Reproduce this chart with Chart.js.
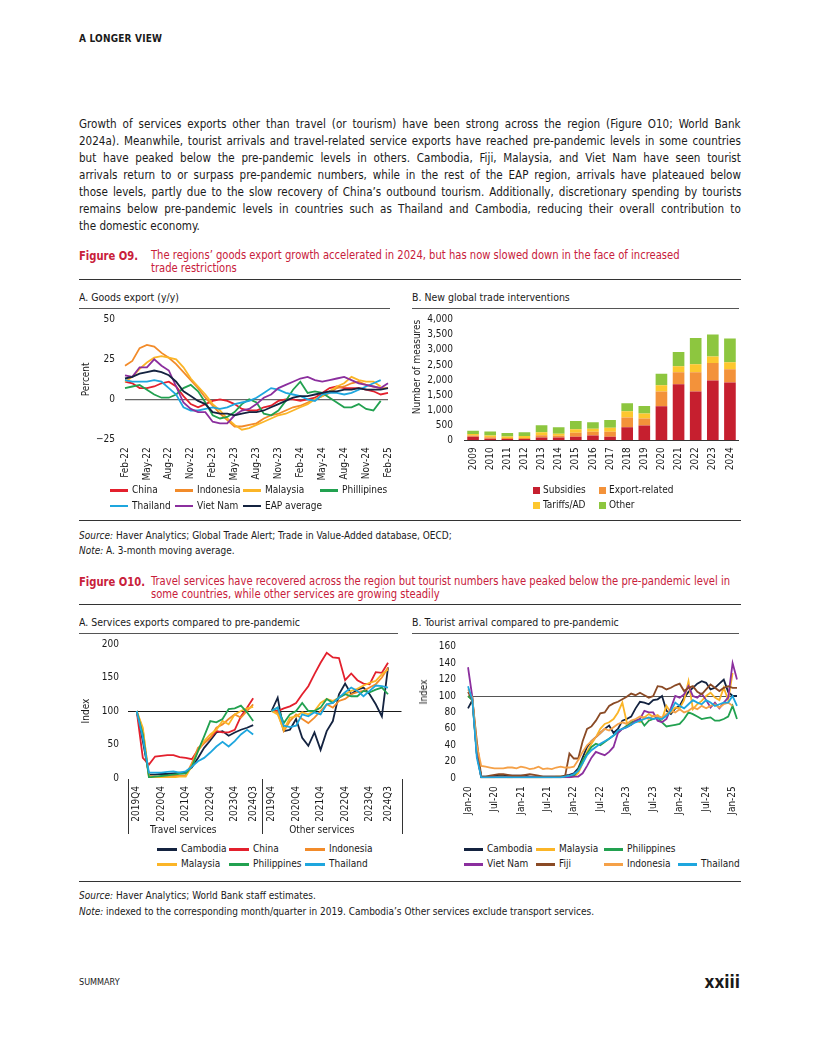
<!DOCTYPE html>
<html>
<head>
<meta charset="utf-8">
<title>A longer view</title>
<script src="https://cdn.jsdelivr.net/npm/chart.js@4.4.1/dist/chart.umd.min.js"></script>
<style>
  body { margin: 0; background: #fff; }
  #page { position: relative; width: 816px; height: 1056px; overflow: hidden;
          font-family: "Liberation Sans Narrow", "DejaVu Sans Condensed", sans-serif; color: #1a1a1a; }
  .t { position: absolute; white-space: nowrap; }
  .rule { position: absolute; height: 0; border-top: 1.3px solid #333; }
  .thin { border-top: 1px solid #555; }
  .red { color: #c8203a; }
  .box { position: absolute; }
  .cond { display: inline-block; transform: scaleX(0.89); transform-origin: 0 0; }
  .cond2 { display: inline-block; transform: scaleX(0.95); transform-origin: 0 0; }
  .para { position: absolute; left: 79px; top: 115px; font-size: 13px; transform-origin: 0 0; }
  .jline { display: block; white-space: nowrap; height: 17px; line-height: 17px; }
  .jline span { display: inline-block; }
  .leg { position: absolute; font-size: 10px; line-height: 12px; height: 12px; white-space: nowrap; }
  .leg i { position: absolute; left: 0; }
  .ctitle { font-size: 11px; line-height: 14px; }
  .src { font-size: 10.5px; line-height: 14px; }
</style>
</head>
<body>
<div id="page">
  <div class="t" style="left:79px;top:32px;font-size:10px;font-weight:bold;letter-spacing:0.2px;line-height:14px;">A LONGER VIEW</div>

  <div class="para" id="para">
    <div class="jline"><span>Growth of services exports other than travel (or tourism) have been strong across the region (Figure O10; World Bank</span></div>
    <div class="jline"><span>2024a). Meanwhile, tourist arrivals and travel-related service exports have reached pre-pandemic levels in some countries</span></div>
    <div class="jline"><span>but have peaked below the pre-pandemic levels in others. Cambodia, Fiji, Malaysia, and Viet Nam have seen tourist</span></div>
    <div class="jline"><span>arrivals return to or surpass pre-pandemic numbers, while in the rest of the EAP region, arrivals have plateaued below</span></div>
    <div class="jline"><span>those levels, partly due to the slow recovery of China’s outbound tourism. Additionally, discretionary spending by tourists</span></div>
    <div class="jline"><span>remains below pre-pandemic levels in countries such as Thailand and Cambodia, reducing their overall contribution to</span></div>
    <div class="jline last"><span>the domestic economy.</span></div>
  </div>

  <!-- Figure O9 -->
  <div class="t red" style="left:79px;top:249px;font-size:12.5px;font-weight:bold;line-height:14px;"><span class="cond">Figure O9.</span></div>
  <div class="t red" style="left:151px;top:249px;font-size:12.5px;line-height:12.5px;"><span class="cond">The regions’ goods export growth accelerated in 2024, but has now slowed down in the face of increased<br>trade restrictions</span></div>
  <div class="rule" style="left:79px;top:279px;width:662px;"></div>

  <div class="t ctitle" style="left:79px;top:291px;"><span class="cond2">A. Goods export (y/y)</span></div>
  <div class="rule thin" style="left:79px;top:308px;width:311px;"></div>
  <div class="t ctitle" style="left:412px;top:291px;"><span class="cond2">B. New global trade interventions</span></div>
  <div class="rule thin" style="left:412px;top:308px;width:327px;"></div>

  <div class="box" style="left:75px;top:311px;width:320px;height:180px;"><canvas id="c9a" width="320" height="180"></canvas></div>
  <div class="box" style="left:405px;top:312px;width:340px;height:180px;"><canvas id="c9b" width="340" height="180"></canvas></div>

  <div class="rule" style="left:79px;top:520px;width:662px;"></div>
  <div class="t src" style="left:79px;top:528px;"><span class="cond2"><i>Source:</i> Haver Analytics; Global Trade Alert; Trade in Value-Added database, OECD;</span></div>
  <div class="t src" style="left:79px;top:543px;"><span class="cond2"><i>Note:</i> A. 3-month moving average.</span></div>

  <!-- Figure O10 -->
  <div class="t red" style="left:79px;top:575px;font-size:12.5px;font-weight:bold;line-height:14px;"><span class="cond">Figure O10.</span></div>
  <div class="t red" style="left:151px;top:575px;font-size:12.5px;line-height:12.5px;"><span class="cond">Travel services have recovered across the region but tourist numbers have peaked below the pre-pandemic level in<br>some countries, while other services are growing steadily</span></div>
  <div class="rule" style="left:79px;top:604px;width:662px;"></div>

  <div class="t ctitle" style="left:79px;top:616px;"><span class="cond2">A. Services exports compared to pre-pandemic</span></div>
  <div class="rule thin" style="left:79px;top:633px;width:319px;"></div>
  <div class="t ctitle" style="left:412px;top:616px;"><span class="cond2">B. Tourist arrival compared to pre-pandemic</span></div>
  <div class="rule thin" style="left:412px;top:633px;width:327px;"></div>

  <div class="box" style="left:75px;top:636px;width:330px;height:200px;"><canvas id="c10a" width="330" height="200"></canvas></div>
  <div class="box" style="left:405px;top:638px;width:340px;height:200px;"><canvas id="c10b" width="340" height="200"></canvas></div>
  <div class="t" style="left:424px;top:692px;font-size:10px;line-height:12px;transform:translate(-50%,-50%) rotate(-90deg);transform-origin:center;">Index</div>

  <div class="rule" style="left:79px;top:881px;width:662px;"></div>
  <div class="t src" style="left:79px;top:888px;"><span class="cond2"><i>Source:</i> Haver Analytics; World Bank staff estimates.</span></div>
  <div class="t src" style="left:79px;top:904px;"><span class="cond2"><i>Note:</i> indexed to the corresponding month/quarter in 2019. Cambodia’s Other services exclude transport services.</span></div>

  <div class="t" style="left:79px;top:976px;font-size:9px;line-height:12px;">SUMMARY</div>
  <div class="t" style="right:76px;top:972px;font-size:17px;font-weight:bold;line-height:20px;">xxiii</div>
</div>

<script>
// ---------- Figure O9 A: goods export growth, 3m avg, y/y % ----------
const months9 = ['Feb-22','Mar-22','Apr-22','May-22','Jun-22','Jul-22','Aug-22','Sep-22','Oct-22','Nov-22','Dec-22',
  'Jan-23','Feb-23','Mar-23','Apr-23','May-23','Jun-23','Jul-23','Aug-23','Sep-23','Oct-23','Nov-23','Dec-23',
  'Jan-24','Feb-24','Mar-24','Apr-24','May-24','Jun-24','Jul-24','Aug-24','Sep-24','Oct-24','Nov-24','Dec-24',
  'Jan-25','Feb-25'];
const china9     = [11, 10, 7, 7, 8, 10, 11, 8, 2, -3, -5, -3, -1, 0, -1, -3, -6, -7, -7, -5, -4, -1, 0, 0, -1, 0, 1, 4, 7, 8, 7, 7, 7, 6, 5, 3, 4];
const indonesia9 = [21, 24, 32, 34, 33, 29, 26, 22, 17, 12, 7, 1, -4, -9, -13, -17, -17, -16, -15, -12, -10, -9, -7, -5, -4, -2, 0, 2, 4, 7, 8, 10, 11, 9, 8, 7, 7];
const malaysia9  = [11, 14, 19, 23, 26, 27, 26, 25, 20, 13, 8, 3, -3, -7, -12, -16, -19, -18, -16, -14, -12, -10, -9, -7, -5, -3, 0, 2, 5, 8, 10, 14, 12, 11, 11, 8, null];
const phil9      = [7, 8, 9, 6, 3, 1, 1, 3, 7, 9, 5, -2, -10, -12, -11, -8, -3, 0, -2, -9, -10, -7, -1, 6, 11, 4, 5, 4, 1, -2, -5, -5, -3, -6, -7, -1, null];
const thai9      = [12, 11, 11, 11, 12, 11, 7, 3, -5, -7, -7, -6, -5, -6, -5, -3, -2, -1, 1, 4, 7, 6, 4, 3, 2, 0, -1, 3, 4, 4, 3, 4, 6, 8, 10, 12, null];
const viet9      = [15, 14, 20, 20, 25, 21, 18, 8, -2, -6, -8, -8, -14, -15, -15, -10, -7, -6, -3, 1, 3, 7, 9, 11, 13, 14, 12, 11, 12, 13, 14, 12, 10, 9, 8, 7, 10];
const eap9       = [13, 14, 16, 17, 18, 17, 15, 11, 5, 2, -1, -3, -8, -9, -9, -10, -9, -8, -8, -7, -5, -3, -1, 1, 2, 2, 3, 4, 5, 5, 6, 6, 7, 6, 6, 6, 7];
const yTicks9 = [-25, 0, 25, 50];

// ---------- Figure O9 B: new global trade interventions ----------
const years9 = ['2009','2010','2011','2012','2013','2014','2015','2016','2017','2018','2019','2020','2021','2022','2023','2024'];
const subsidies = [120, 50, 40, 40, 90, 90, 120, 160, 120, 430, 490, 1130, 1860, 1620, 1980, 1920];
const exportRel = [40, 50, 40, 40, 80, 60, 130, 120, 160, 330, 230, 490, 400, 640, 580, 440];
const tariffsAD = [50, 60, 50, 60, 100, 70, 120, 100, 140, 200, 170, 210, 200, 260, 220, 230];
const otherMeas = [110, 130, 110, 130, 230, 210, 270, 220, 250, 270, 250, 380, 470, 870, 730, 790];

// ---------- Figure O10 A: services exports index (2019 = 100) ----------
const quarters = ['2019Q4','2020Q1','2020Q2','2020Q3','2020Q4','2021Q1','2021Q2','2021Q3','2021Q4','2022Q1',
  '2022Q2','2022Q3','2022Q4','2023Q1','2023Q2','2023Q3','2023Q4','2024Q1','2024Q2','2024Q3'];
const quarterTicks = ['2019Q4','2020Q4','2021Q4','2022Q4','2023Q4','2024Q3'];
const groupNames = ['Travel services', 'Other services'];
// travel services
const cambodiaT  = [100, 55, 5, 5, 6, 6, 7, 8, 8, 16, 30, 45, 56, 68, 70, 63, 68, 72, 75, 79];
const chinaT     = [100, 30, 20, 32, 33, 34, 34, 31, 30, 28, 42, 52, 60, 70, 68, 68, 72, 92, 105, 119];
const indonesiaT = [100, 72, 3, 2, 2, 2, 3, 3, 4, 22, 45, 52, 60, 75, 80, 88, 95, 90, 100, 110];
const malaysiaT  = [100, 75, 1, 1, 1, 1, 1, 2, 2, 18, 40, 55, 65, 72, 85, 80, 95, 100, 104, 106];
const philT      = [100, 65, 1, 2, 3, 4, 5, 6, 7, 17, 40, 62, 85, 83, 88, 103, 104, 108, 98, 85];
const thaiT      = [100, 60, 8, 8, 8, 9, 10, 8, 10, 17, 25, 30, 38, 47, 54, 47, 55, 65, 72, 65];
// other services
const cambodiaO  = [100, 120, 70, 72, 88, 60, 48, 68, 42, 70, 85, 125, 141, 125, 132, 135, 125, 110, 92, 165];
const chinaO     = [100, 100, 104, 107, 112, 125, 137, 155, 172, 187, 180, 179, 146, 156, 146, 141, 140, 158, 157, 172];
const indonesiaO = [100, 98, 70, 85, 95, 88, 82, 90, 100, 110, 105, 115, 118, 125, 128, 130, 135, 140, 150, 165];
const malaysiaO  = [100, 95, 72, 90, 92, 98, 95, 100, 112, 118, 115, 120, 125, 130, 133, 138, 142, 145, 155, 162];
const philO      = [100, 105, 82, 95, 100, 112, 100, 100, 105, 118, 112, 120, 125, 122, 122, 130, 128, 132, 135, 125];
const thaiO      = [100, 105, 78, 76, 78, 95, 92, 98, 95, 110, 112, 120, 128, 135, 130, 122, 130, 138, 137, 135];

// ---------- Figure O10 B: tourist arrivals index (same month 2019 = 100) ----------
const months10 = ['Jan-20','Feb-20','Mar-20','Apr-20','May-20','Jun-20','Jul-20','Aug-20','Sep-20','Oct-20','Nov-20','Dec-20',
  'Jan-21','Feb-21','Mar-21','Apr-21','May-21','Jun-21','Jul-21','Aug-21','Sep-21','Oct-21','Nov-21','Dec-21',
  'Jan-22','Feb-22','Mar-22','Apr-22','May-22','Jun-22','Jul-22','Aug-22','Sep-22','Oct-22','Nov-22','Dec-22',
  'Jan-23','Feb-23','Mar-23','Apr-23','May-23','Jun-23','Jul-23','Aug-23','Sep-23','Oct-23','Nov-23','Dec-23',
  'Jan-24','Feb-24','Mar-24','Apr-24','May-24','Jun-24','Jul-24','Aug-24','Sep-24','Oct-24','Nov-24','Dec-24',
  'Jan-25','Feb-25'];
const cambodia10  = [85, 95, 30, 2, 2, 2, 3, 3, 3, 3, 3, 3, 3, 3, 2, 2, 2, 2, 2, 2, 2, 2, 3, 4, 6, 12, 25, 38, 45, 50,
  55, 60, 64, 55, 60, 70, 72, 75, 85, 93, 92, 90, 95, 96, 100, 82, 78, 85, 88, 98, 105, 110, 115, 118, 116, 108, 110, 115, 120, 105, 100, 100];
const malaysia10  = [100, 95, 35, 1, 1, 1, 1, 2, 2, 1, 1, 2, 1, 1, 1, 1, 1, 1, 1, 1, 2, 2, 2, 2, 2, 6, 18, 32, 42, 50,
  60, 66, 68, 72, 80, 92, 68, 65, 70, 68, 74, 78, 75, 77, 72, 88, 80, 86, 85, 95, 118, 84, 90, 94, 100, 104, 98, 95, 110, 95, 128, null];
const phil10      = [100, 95, 30, 1, 1, 1, 1, 1, 1, 1, 1, 1, 1, 1, 1, 1, 1, 1, 1, 1, 1, 1, 2, 2, 3, 10, 22, 30, 38, 42,
  40, 44, 48, 52, 56, 60, 64, 68, 70, 72, 64, 70, 72, 74, 68, 63, 64, 65, 66, 72, 80, 78, 75, 72, 73, 74, 70, 70, 72, 75, 88, 72];
const viet10      = [135, 98, 30, 1, 1, 1, 1, 1, 1, 1, 1, 1, 1, 1, 1, 1, 1, 1, 1, 1, 1, 1, 1, 1, 2, 2, 6, 15, 25, 32,
  30, 28, 32, 38, 55, 60, 62, 65, 70, 72, 82, 80, 80, 70, 68, 72, 85, 100, 98, 102, 112, 100, 98, 103, 95, 86, 92, 85, 92, 98, 140, 120];
const fiji10      = [105, 95, 45, 2, 2, 3, 4, 5, 5, 4, 3, 3, 3, 4, 5, 4, 3, 2, 2, 2, 2, 2, 2, 30, 24, 24, 45, 60, 63, 70,
  79, 80, 88, 91, 93, 96, 99, 103, 101, 104, 101, 98, 100, 112, 111, 108, 110, 113, 115, 106, 110, 112, 105, 102, 108, 114, 110, 106, 110, 112, 110, 110];
const indonesia10 = [108, 98, 40, 15, 14, 13, 12, 12, 12, 13, 13, 12, 14, 13, 11, 12, 14, 11, 12, 11, 13, 14, 13, 13, 14, 22, 32, 40, 45, 50,
  55, 60, 58, 62, 66, 68, 66, 70, 72, 75, 74, 72, 76, 75, 74, 78, 82, 80, 84, 80, 82, 86, 84, 88, 85, 88, 90, 86, 90, 92, 88, null];
const thai10      = [112, 95, 25, 1, 1, 1, 1, 1, 1, 1, 1, 1, 1, 1, 1, 1, 1, 1, 1, 1, 1, 1, 2, 3, 5, 9, 18, 28, 34, 38,
  42, 45, 48, 52, 58, 60, 62, 65, 68, 70, 72, 74, 72, 73, 72, 76, 82, 92, 88, 85, 90, 95, 92, 90, 95, 92, 88, 90, 92, 92, 100, 88];

// ---------- colours ----------
const COL = {
  china: '#e3202d', indonesia: '#f28b2a', malaysia: '#fbb527', phil: '#22a150', thai: '#1ea6de',
  viet: '#8b2f9e', navy: '#142340', fiji: '#8a4a25', indonesiaB: '#f5a148',
  subsidies: '#c61f2f', exportRel: '#f3923a', tariffs: '#fdc72e', other: '#8dc63f'
};

const FONT = '"Liberation Sans Narrow", "DejaVu Sans Condensed", sans-serif';
Chart.defaults.font.family = FONT;
Chart.defaults.font.size = 10;
Chart.defaults.color = '#1a1a1a';
Chart.defaults.animation = false;
Chart.defaults.plugins.legend.display = false;
Chart.defaults.plugins.tooltip.enabled = false;

// axis boxes get a fixed size, and no label overhang padding, so the plot
// areas land exactly where the page has them
const noOverhang = axis => { axis.paddingTop = axis.paddingBottom = axis.paddingLeft = axis.paddingRight = 0; };
const fixWidth = w => axis => { axis.width = w; noOverhang(axis); };
const fixHeight = h => axis => { axis.height = h; noOverhang(axis); };
const onlyAt = (value, color) => ctx => (ctx.tick && ctx.tick.value === value ? color : 'rgba(0,0,0,0)');
const minus = v => (v < 0 ? '\u2212' + Math.abs(v) : String(v));
const pad = (top, right) => ({ autoPadding: false, padding: { top, right, left: 0, bottom: 0 } });

function line(label, data, color, order) {
  return { label, data, borderColor: color, backgroundColor: color, borderWidth: 1.8,
           pointRadius: 0, tension: 0, spanGaps: false, order: order || 0 };
}

function yTitle(text, p, align) {
  return { display: true, text, align: align || 'center', color: '#1a1a1a',
           font: { size: 10 }, padding: { top: p, bottom: 0 } };
}

// Figure O9 A
new Chart(document.getElementById('c9a'), {
  type: 'line',
  data: {
    labels: months9,
    datasets: [
      line('EAP average', eap9, COL.navy, 0),
      line('Viet Nam', viet9, COL.viet, 1),
      line('Thailand', thai9, COL.thai, 2),
      line('Phillipines', phil9, COL.phil, 3),
      line('Malaysia', malaysia9, COL.malaysia, 4),
      line('Indonesia', indonesia9, COL.indonesia, 5),
      line('China', china9, COL.china, 6)
    ]
  },
  options: {
    responsive: false,
    layout: pad(8.3, 7),
    scales: {
      x: {
        grid: { display: false, drawTicks: false }, border: { display: false },
        ticks: { autoSkip: false, minRotation: 90, maxRotation: 90, padding: 8,
                 callback: function (v, i) { return i % 3 === 0 ? this.getLabelForValue(v) : ''; } },
        afterFit: fixHeight(51.7)
      },
      y: {
        min: -25, max: 50,
        afterBuildTicks: axis => { axis.ticks = yTicks9.map(v => ({ value: v })); },
        grid: { color: onlyAt(0, '#666'), lineWidth: 1.3, drawTicks: false }, border: { display: false },
        ticks: { padding: 10, callback: minus },
        title: yTitle('Percent', 5),
        afterFit: fixWidth(50)
      }
    }
  }
});

// Figure O9 B
const bar = (label, data, color) => ({ label, data, backgroundColor: color, borderWidth: 0,
  barPercentage: 0.68, categoryPercentage: 1 });
new Chart(document.getElementById('c9b'), {
  type: 'bar',
  data: {
    labels: years9,
    datasets: [
      bar('Subsidies', subsidies, COL.subsidies),
      bar('Export-related', exportRel, COL.exportRel),
      bar('Tariffs/AD', tariffsAD, COL.tariffs),
      bar('Other', otherMeas, COL.other)
    ]
  },
  options: {
    responsive: false,
    layout: pad(7.7, 6.5),
    scales: {
      x: {
        stacked: true,
        grid: { display: false, drawTicks: false }, border: { display: true, color: '#333', width: 1 },
        ticks: { autoSkip: false, minRotation: 90, maxRotation: 90, padding: 7 },
        afterFit: fixHeight(51.7)
      },
      y: {
        stacked: true, min: 0, max: 4000,
        grid: { display: false, drawTicks: false }, border: { display: false },
        ticks: { stepSize: 500, padding: 11.5, callback: v => v.toLocaleString('en-US') },
        title: yTitle('Number of measures', 6.3, 'end'),
        afterFit: fixWidth(59.5)
      }
    }
  }
});

// Figure O10 A: two panels on one linear axis, travel at 0..19 and other at 22..41
const OTHER_START = 22;
const travelEnd = quarters.length - 1;
const tickIdx = [];
quarters.forEach((q, i) => { if (quarterTicks.includes(q)) tickIdx.push(i); });
const allTicks = tickIdx.concat(tickIdx.map(i => i + OTHER_START));
function panels(travel, other) {
  return travel.map((v, i) => ({ x: i, y: v }))
    .concat([{ x: travelEnd + 1.5, y: null }])
    .concat(other.map((v, i) => ({ x: i + OTHER_START, y: v })));
}
const groupLines = {
  id: 'groupLines',
  afterDraw(chart) {
    const { ctx, chartArea, scales: { x } } = chart;
    const mid = x.getPixelForValue((travelEnd + OTHER_START) / 2);
    ctx.save();
    ctx.strokeStyle = '#333';
    ctx.lineWidth = 1;
    [chartArea.left, mid, chartArea.right].forEach(px => {
      const xx = Math.round(px) + 0.5;
      ctx.beginPath();
      ctx.moveTo(xx, chartArea.bottom + 1);
      ctx.lineTo(xx, chartArea.bottom + 56);
      ctx.stroke();
    });
    ctx.fillStyle = '#1a1a1a';
    ctx.font = '10px ' + FONT;
    ctx.textAlign = 'center';
    ctx.textBaseline = 'middle';
    ctx.fillText(groupNames[0], x.getPixelForValue(7.6), chartArea.bottom + 52.5);
    ctx.fillText(groupNames[1], x.getPixelForValue(OTHER_START + 8.2), chartArea.bottom + 52.5);
    ctx.restore();
  }
};
new Chart(document.getElementById('c10a'), {
  type: 'line',
  data: {
    datasets: [
      line('Thailand', panels(thaiT, thaiO), COL.thai, 0),
      line('Philippines', panels(philT, philO), COL.phil, 1),
      line('Malaysia', panels(malaysiaT, malaysiaO), COL.malaysia, 2),
      line('Indonesia', panels(indonesiaT, indonesiaO), COL.indonesia, 3),
      line('China', panels(chinaT, chinaO), COL.china, 4),
      line('Cambodia', panels(cambodiaT, cambodiaO), COL.navy, 5)
    ]
  },
  plugins: [groupLines],
  options: {
    responsive: false,
    layout: pad(8, 3.5),
    scales: {
      x: {
        type: 'linear', min: -1.5, max: 43.2,
        afterBuildTicks: axis => { axis.ticks = allTicks.map(v => ({ value: v })); },
        grid: { display: false, drawTicks: false }, border: { display: false },
        ticks: { autoSkip: false, minRotation: 90, maxRotation: 90, padding: 8,
                 callback: v => (v >= OTHER_START ? quarters[v - OTHER_START] : quarters[v]) },
        afterFit: fixHeight(58)
      },
      y: {
        min: 0, max: 200,
        grid: { color: onlyAt(100, '#1a1a1a'), lineWidth: 1, drawTicks: false }, border: { display: false },
        ticks: { stepSize: 50, padding: 8.5 },
        title: yTitle('Index', 5),
        afterFit: fixWidth(52.5)
      }
    }
  }
});

// Figure O10 B
new Chart(document.getElementById('c10b'), {
  type: 'line',
  data: {
    labels: months10,
    datasets: [
      line('Thailand', thai10, COL.thai, 0),
      line('Indonesia', indonesia10, COL.indonesiaB, 1),
      line('Fiji', fiji10, COL.fiji, 2),
      line('Viet Nam', viet10, COL.viet, 3),
      line('Philippines', phil10, COL.phil, 4),
      line('Malaysia', malaysia10, COL.malaysia, 5),
      line('Cambodia', cambodia10, COL.navy, 6)
    ]
  },
  options: {
    responsive: false,
    layout: pad(8.7, 8),
    scales: {
      x: {
        grid: { display: false, drawTicks: false }, border: { display: false },
        ticks: { autoSkip: false, minRotation: 90, maxRotation: 90, padding: 8,
                 callback: function (v, i) { return i % 6 === 0 ? this.getLabelForValue(v) : ''; } },
        afterFit: fixHeight(59.8)
      },
      y: {
        min: 0, max: 160,
        grid: { color: onlyAt(100, '#555'), lineWidth: 1, drawTicks: false }, border: { display: false },
        ticks: { stepSize: 20, padding: 12 },
        afterFit: fixWidth(63)
      }
    }
  }
});

// ---------- legends (HTML, below each plot) ----------
const page = document.getElementById('page');
function legendItem(text, color, x, y, kind) {
  const el = document.createElement('div');
  el.className = 'leg';
  el.style.left = x + 'px';
  el.style.top = (y - 6) + 'px';
  const sw = document.createElement('i');
  if (kind === 'box') {
    sw.style.cssText = 'top:2.5px;width:7px;height:7px;background:' + color;
  } else {
    sw.style.cssText = 'top:5px;width:' + kind + 'px;height:2.5px;background:' + color;
  }
  const tx = document.createElement('span');
  tx.textContent = text;
  tx.style.marginLeft = ((kind === 'box' ? 7 : kind) + (kind === 'box' ? 3 : 4)) + 'px';
  el.appendChild(sw);
  el.appendChild(tx);
  page.appendChild(el);
}
[
  ['China', COL.china, 110, 490], ['Indonesia', COL.indonesia, 175, 490],
  ['Malaysia', COL.malaysia, 243, 490], ['Phillipines', COL.phil, 320, 490],
  ['Thailand', COL.thai, 110, 505.7], ['Viet Nam', COL.viet, 175, 505.7], ['EAP average', COL.navy, 243, 505.7]
].forEach(d => legendItem(d[0], d[1], d[2], d[3], 18));
[
  ['Subsidies', COL.subsidies, 533, 490.3], ['Export-related', COL.exportRel, 599, 490.3],
  ['Tariffs/AD', COL.tariffs, 533, 505], ['Other', COL.other, 599, 505]
].forEach(d => legendItem(d[0], d[1], d[2], d[3], 'box'));
[
  ['Cambodia', COL.navy, 157, 849.3], ['China', COL.china, 229, 849.3], ['Indonesia', COL.indonesia, 305, 849.3],
  ['Malaysia', COL.malaysia, 157, 864.3], ['Philippines', COL.phil, 229, 864.3], ['Thailand', COL.thai, 305, 864.3]
].forEach(d => legendItem(d[0], d[1], d[2], d[3], 20));
[
  ['Cambodia', COL.navy, 464, 849.3], ['Malaysia', COL.malaysia, 536, 849.3], ['Philippines', COL.phil, 604, 849.3],
  ['Viet Nam', COL.viet, 464, 864.3], ['Fiji', COL.fiji, 536, 864.3], ['Indonesia', COL.indonesiaB, 604, 864.3],
  ['Thailand', COL.thai, 678, 864.3]
].forEach(d => legendItem(d[0], d[1], d[2], d[3], 19));

// ---------- paragraph: narrowed a little (the page font is condensed), each line justified ----------
const SQUEEZE = 0.89;
const COLUMN = 662 / SQUEEZE;
const para = document.getElementById('para');
para.style.width = COLUMN + 'px';
para.style.transform = 'scaleX(' + SQUEEZE + ')';
para.querySelectorAll('.jline').forEach(row => {
  if (row.classList.contains('last')) return;
  const span = row.firstElementChild;
  const gaps = (span.textContent.match(/ /g) || []).length;
  const extra = COLUMN - span.offsetWidth;
  if (gaps) span.style.wordSpacing = (extra / gaps) + 'px';
});
</script>
</body>
</html>
